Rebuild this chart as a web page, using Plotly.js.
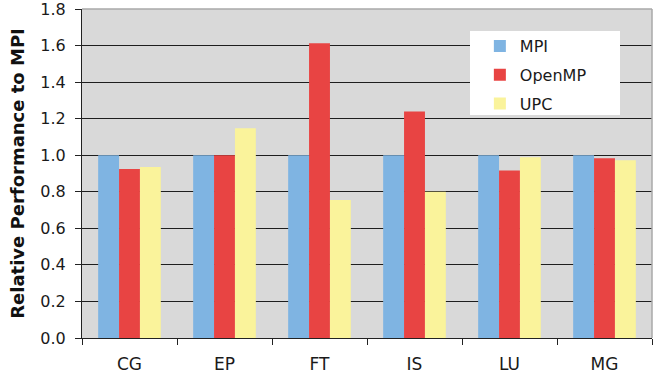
<!DOCTYPE html>
<html>
<head>
<meta charset="utf-8">
<script src="https://cdn.plot.ly/plotly-3.0.1.min.js"></script>
<style>html,body{margin:0;padding:0;background:#fff;}#chart{width:661px;height:382px;}</style>
</head>
<body>
<div id="chart"></div>
<script>
const categories = ["CG", "EP", "FT", "IS", "LU", "MG"];
const mpi = [1.0, 1.0, 1.0, 1.0, 1.0, 1.0];
const openmp = [0.925, 1.0, 1.613, 1.239, 0.916, 0.984];
const upc = [0.935, 1.148, 0.755, 0.80, 0.989, 0.973];
const yTicks = [0, 0.2, 0.4, 0.6, 0.8, 1.0, 1.2, 1.4, 1.6, 1.8];
const yTickLabels = ["0.0", "0.2", "0.4", "0.6", "0.8", "1.0", "1.2", "1.4", "1.6", "1.8"];

const font = "DejaVu Sans, Verdana, sans-serif";
const traces = [
  {type: "bar", name: "MPI", x: categories, y: mpi, marker: {color: "#7fb4e2"}, legendgroup: "a"},
  {type: "bar", name: "OpenMP", x: categories, y: openmp, marker: {color: "#e84443"}, legendgroup: "b"},
  {type: "bar", name: "UPC", x: categories, y: upc, marker: {color: "#faf39b"}, legendgroup: "c"}
];
const layout = {
  width: 661, height: 382,
  margin: {l: 82, r: 9, t: 9, b: 44},
  paper_bgcolor: "#ffffff",
  plot_bgcolor: "#d9d9d9",
  barmode: "group",
  bargap: 0.34,
  bargroupgap: 0,
  font: {family: font, size: 15, color: "#1a1a1a"},
  xaxis: {
    type: "category",
    tickson: "boundaries",
    ticks: "outside", ticklen: 6, tickcolor: "#222",
    showline: true, linecolor: "#222", linewidth: 1,
    showgrid: false,
    ticklabelstandoff: 11,
    ticklabeloverflow: "allow",
    tickfont: {family: font, size: 17, color: "#1a1a1a"}
  },
  yaxis: {
    range: [0, 1.8],
    tickvals: yTicks, ticktext: yTickLabels,
    ticks: "outside", ticklen: 6, tickcolor: "#222",
    showline: true, linecolor: "#222", linewidth: 1,
    gridcolor: "#1e1e1e", gridwidth: 1,
    zeroline: false,
    ticklabelstandoff: 6,
    ticklabeloverflow: "allow",
    tickfont: {family: font, size: 16, color: "#1a1a1a"},
    title: {text: "Relative Performance to MPI", font: {family: font, size: 18, color: "#111", weight: "bold"}, standoff: 11}
  },
  legend: {
    x: 0.698, y: 0.939, xanchor: "left", yanchor: "top",
    bgcolor: "rgba(0,0,0,0)", borderwidth: 0,
    font: {family: font, size: 16, color: "#1a1a1a"},
    itemwidth: 30, tracegroupgap: 5
  },
  shapes: [
    {type: "rect", xref: "paper", yref: "paper",
     x0: (470 - 82) / 570, x1: (620 - 82) / 570, y0: (338 - 115) / 329, y1: (338 - 31) / 329,
     fillcolor: "#ffffff", line: {width: 0}, layer: "above"},
    {type: "line", xref: "paper", yref: "paper", x0: 0, x1: 1, y0: 1, y1: 1, line: {color: "#a8a8a8", width: 1.5}, layer: "above"},
    {type: "line", xref: "paper", yref: "paper", x0: 1, x1: 1, y0: 0, y1: 1, line: {color: "#a8a8a8", width: 1.5}, layer: "above"}
  ],
  showlegend: true
};
Plotly.newPlot("chart", traces, layout, {displayModeBar: false, staticPlot: true});
</script>
</body>
</html>
